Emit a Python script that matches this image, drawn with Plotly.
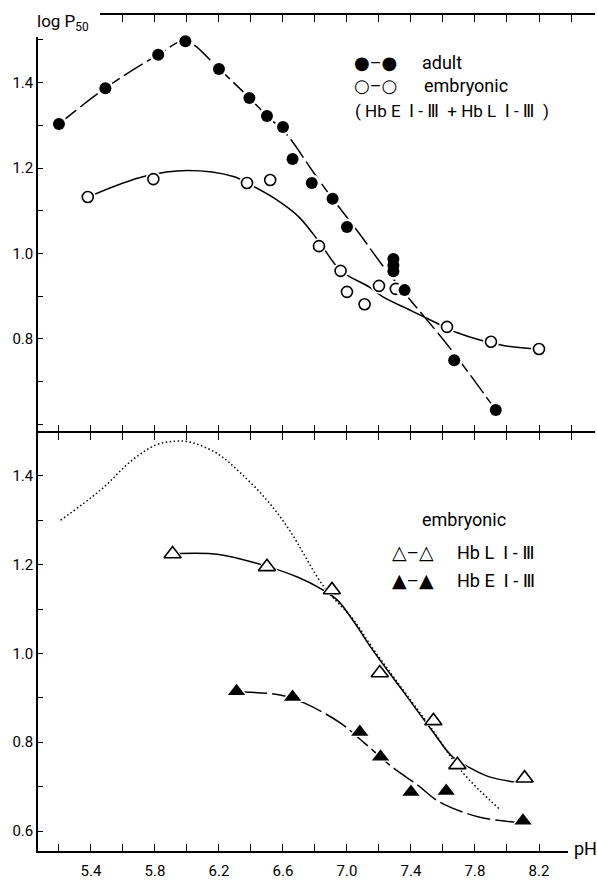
import plotly.graph_objects as go

# ---------------- data ----------------
# upper panel: measured points
adult_ph = [5.2, 5.49, 5.82, 5.99, 6.2, 6.39, 6.5, 6.6, 6.66, 6.78, 6.91, 7.0, 7.29, 7.29, 7.29, 7.36, 7.67, 7.93]
adult_logp50 = [1.303, 1.387, 1.465, 1.497, 1.432, 1.364, 1.322, 1.296, 1.221, 1.165, 1.128, 1.062,
                0.987, 0.972, 0.958, 0.914, 0.75, 0.633]
embryo_ph = [5.38, 5.79, 6.375, 6.52, 6.825, 6.96, 7.0, 7.11, 7.2, 7.305, 7.625, 7.9, 8.2]
embryo_logp50 = [1.132, 1.174, 1.165, 1.172, 1.017, 0.959, 0.91, 0.881, 0.924, 0.917, 0.828, 0.793, 0.776]

# upper panel: hand-drawn curves
adult_curve_ph = [5.2, 5.49, 5.82, 5.99, 6.2, 6.39, 6.5, 6.62, 6.79, 6.91, 7.07, 7.22, 7.38, 7.64, 7.93]
adult_curve = [1.303, 1.387, 1.465, 1.497, 1.432, 1.364, 1.322, 1.28, 1.19, 1.128, 1.05, 0.973, 0.898, 0.78, 0.633]
embryo_curve_ph = [5.42, 5.73, 6.0, 6.29, 6.41, 6.55, 6.7, 6.83, 6.96, 7.14, 7.225, 7.4, 7.56, 7.69, 7.97, 8.2]
embryo_curve = [1.138, 1.18, 1.194, 1.18, 1.158, 1.128, 1.085, 1.025, 0.96, 0.921, 0.898, 0.866, 0.837, 0.814, 0.785, 0.776]

# lower panel: measured points
hbl_ph = [5.91, 6.5, 6.906, 7.205, 7.54, 7.69, 8.11]
hbl_logp50 = [1.224, 1.195, 1.143, 0.956, 0.848, 0.749, 0.719]
hbe_ph = [6.31, 6.66, 7.08, 7.21, 7.4, 7.62, 8.1]
hbe_logp50 = [0.915, 0.902, 0.823, 0.767, 0.688, 0.69, 0.623]

# lower panel: curves
hbl_curve_ph = [5.95, 6.2, 6.5, 6.69, 6.83, 6.94, 7.04, 7.16, 7.35, 7.53, 7.66, 7.76, 7.89, 8.06]
hbl_curve = [1.225, 1.223, 1.196, 1.172, 1.147, 1.12, 1.073, 1.008, 0.915, 0.827, 0.767, 0.744, 0.722, 0.71]
hbe_curve_ph = [6.35, 6.59, 6.735, 6.96, 7.11, 7.29, 7.44, 7.58, 7.83, 8.05]
hbe_curve = [0.913, 0.906, 0.888, 0.843, 0.798, 0.742, 0.704, 0.665, 0.631, 0.62]
adult_dotted_ph = [5.21, 5.46, 5.66, 5.81, 5.925, 6.02, 6.19, 6.33, 6.5, 6.64, 6.856, 7.04, 7.16,
                   7.35, 7.53, 7.72, 7.96]
adult_dotted = [1.30, 1.368, 1.436, 1.47, 1.478, 1.476, 1.45, 1.408, 1.345, 1.278, 1.15, 1.076, 1.012,
                0.918, 0.83, 0.733, 0.647]

x_tickvals = [5.4, 5.8, 6.2, 6.6, 7.0, 7.4, 7.8, 8.2]
x_ticklabels = ["5.4", "5.8", "6.2", "6.6", "7.0", "7.4", "7.8", "8.2"]
top_y_ticks = [0.8, 1.0, 1.2, 1.4]
bottom_y_ticks = [0.6, 0.8, 1.0, 1.2, 1.4]

# ---------------- layout geometry (pixels) ----------------
W, H = 597, 881
L, R, T, B = 38, 2, 15, 30
plot_w = W - L - R
plot_h = H - T - B
top_dom_bottom = (H - B - 431.25) / plot_h   # top panel's lower frame line sits at y = 432 px
bot_dom_top = (H - B - 432.75) / plot_h      # bottom panel's upper frame line sits at the same place

def px(x):
    return (x - L) / plot_w

def py(y):
    return (H - B - y) / plot_h

XR = [5.069, 8.55]
TOP_YR = [0.5835, 1.5583]
BOT_YR = [0.555, 1.497]
FONT = "Roboto, 'DejaVu Sans', sans-serif"
K = "black"

fig = go.Figure()

def curve(xs, ys, xa, ya, dash="solid", width=1.5):
    fig.add_trace(go.Scatter(x=xs, y=ys, mode="lines", xaxis=xa, yaxis=ya,
                             line=dict(color=K, width=width, dash=dash, shape="spline", smoothing=1.0),
                             hoverinfo="skip", showlegend=False))

def points(xs, ys, xa, ya, symbol, size, filled):
    # white halo that opens a small gap in the curves around each marker
    fig.add_trace(go.Scatter(x=xs, y=ys, mode="markers", xaxis=xa, yaxis=ya,
                             marker=dict(symbol=symbol, size=size + 5, color="white", line=dict(width=0)),
                             hoverinfo="skip", showlegend=False))
    fig.add_trace(go.Scatter(x=xs, y=ys, mode="markers", xaxis=xa, yaxis=ya,
                             marker=dict(symbol=symbol, size=size, color=K if filled else "white",
                                         line=dict(width=0 if filled else 1.6, color=K)),
                             showlegend=False))

# curves
curve(adult_curve_ph, adult_curve, "x", "y", dash="22px,5px")
curve(embryo_curve_ph, embryo_curve, "x", "y")
curve(adult_dotted_ph, adult_dotted, "x2", "y2", dash="1.5px,2.5px", width=1.5)
curve(hbl_curve_ph, hbl_curve, "x2", "y2")
curve(hbe_curve_ph, hbe_curve, "x2", "y2", dash="24px,5px")

# markers
points(embryo_ph, embryo_logp50, "x", "y", "circle", 11, False)
points(adult_ph, adult_logp50, "x", "y", "circle", 12, True)
points(hbl_ph, hbl_logp50, "x2", "y2", "triangle-up", 15, False)
points(hbe_ph, hbe_logp50, "x2", "y2", "triangle-up", 15, True)

axis_common = dict(showline=True, linecolor=K, linewidth=1.5, showgrid=False, zeroline=False,
                   ticks="inside", tickcolor=K, tickwidth=1.3, automargin=False,
                   tickfont=dict(family=FONT, size=15, color=K))
minor_y = dict(ticks="inside", tick0=0.5, dtick=0.1, ticklen=5, tickcolor=K, tickwidth=1.3)

fig.update_layout(
    width=W, height=H, margin=dict(l=L, r=R, t=T, b=B, autoexpand=False),
    paper_bgcolor="white", plot_bgcolor="white", showlegend=False,
    xaxis=dict(axis_common, domain=[0, 1], anchor="y", range=XR, mirror="ticks",
               tickmode="linear", tick0=5.2, dtick=0.2, ticklen=7, showticklabels=False),
    yaxis=dict(axis_common, domain=[top_dom_bottom, 1], anchor="x", range=TOP_YR,
               tickvals=top_y_ticks, ticktext=[f"{v:.1f}" for v in top_y_ticks], ticklen=5,
               minor=minor_y),
    xaxis2=dict(axis_common, domain=[0, 1], anchor="y2", range=XR, mirror="ticks",
                tickvals=x_tickvals, ticktext=x_ticklabels, ticklen=7, ticklabelstandoff=5,
                minor=dict(ticks="inside", tick0=5.2, dtick=0.2, ticklen=7, tickcolor=K, tickwidth=1.3)),
    yaxis2=dict(axis_common, domain=[0, bot_dom_top], anchor="x2", range=BOT_YR,
                tickvals=bottom_y_ticks, ticktext=[f"{v:.1f}" for v in bottom_y_ticks], ticklen=5,
                minor=minor_y),
    # right-hand tick marks (the frame's right edge is cut off in the scan)
    yaxis3=dict(overlaying="y", side="right", anchor="x", range=TOP_YR, showline=False,
                showgrid=False, zeroline=False, ticks="inside", ticklen=5, tickcolor=K, tickwidth=1.3,
                tick0=0.5, dtick=0.1, showticklabels=False, automargin=False),
    yaxis4=dict(overlaying="y2", side="right", anchor="x2", range=BOT_YR, showline=False,
                showgrid=False, zeroline=False, ticks="inside", ticklen=5, tickcolor=K, tickwidth=1.3,
                tick0=0.5, dtick=0.1, showticklabels=False, automargin=False),
)

# white patches where the frame is interrupted by the axis titles
fig.add_shape(type="rect", xref="paper", yref="paper", x0=px(30), x1=px(100), y0=py(37), y1=py(0),
              fillcolor="white", line=dict(width=0), layer="above")
fig.add_shape(type="rect", xref="paper", yref="paper", x0=px(568), x1=px(597), y0=py(862), y1=py(838),
              fillcolor="white", line=dict(width=0), layer="above")

def label(text, x, y, size=18, xanchor="left"):
    fig.add_annotation(text=text, xref="paper", yref="paper", x=px(x), y=py(y), xanchor=xanchor,
                       yanchor="middle", showarrow=False, font=dict(family=FONT, size=size, color=K))

label("log P<sub>50</sub>", 35, 22, size=17)
label("pH", 572, 848, size=18)

label("●–●", 375, 62, size=18, xanchor="center")
label("adult", 420, 62)
label("○–○", 375, 86, size=18, xanchor="center")
label("embryonic", 422, 86)
label("( Hb E  Ⅰ - Ⅲ  + Hb L  Ⅰ - Ⅲ  )", 353, 111, size=17)

label("embryonic", 464, 519, xanchor="center")
label("△–△", 413, 552, size=19, xanchor="center")
label("Hb L  Ⅰ - Ⅲ", 455, 552)
label("▲–▲", 413, 580, size=19, xanchor="center")
label("Hb E  Ⅰ - Ⅲ", 455, 580)

fig.write_html("out.html")
